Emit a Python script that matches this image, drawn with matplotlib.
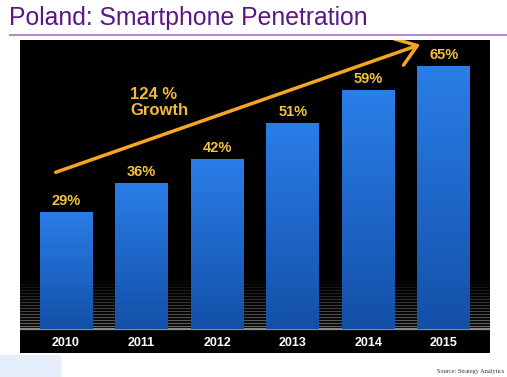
import numpy as np
import matplotlib.pyplot as plt
from matplotlib.patches import FancyArrowPatch

years = ['2010', '2011', '2012', '2013', '2014', '2015']
penetration = [29, 36, 42, 51, 59, 65]
labels = ['29%', '36%', '42%', '51%', '59%', '65%']

plt.rcParams['font.family'] = ['Liberation Sans', 'DejaVu Sans']

W, H = 507, 377
fig = plt.figure(figsize=(W / 100, H / 100), dpi=100)
fig.patch.set_facecolor('white')

# title + purple rule
fig.text(9 / W, 1 - 18 / H, 'Poland: Smartphone Penetration', color='#5a1589',
         fontsize=17.8, va='center', ha='left')
fig.add_artist(plt.Line2D([10 / W, 1], [1 - 35 / H, 1 - 35 / H], color='#b58ccb', lw=1.5))

# faint blue box bottom-left and source note
fig.add_artist(plt.Rectangle((0, 0), 60 / W, 22 / H, color='#e6eefb', zorder=0))
fig.text(1 - 3 / W, 3 / H, 'Source: Strategy Analytics', fontsize=4.5,
         family='Liberation Serif', ha='right', va='bottom', color='#333333')

ax = fig.add_axes([20 / W, 24 / H, 470 / W, 313 / H])
ax.set_facecolor('black')
x = np.arange(len(years))
ax.set_xlim(-0.608, 5.61)
ax.set_ylim(-5.9, 71.4)
for s in ax.spines.values():
    s.set_visible(False)
ax.set_xticks([])
ax.set_yticks([])

# grey stripes in the lower part of the panel
for yy in np.arange(0, 13, 0.75):
    a = 0.7 * (1 - yy / 13)
    ax.axhline(yy, color='#9a9a9a', lw=0.9, alpha=a, zorder=1)
ax.axhline(0, color='#8a8a8a', lw=1.5, zorder=1)

bars = ax.bar(x, penetration, width=0.7, color='#1f68d0', zorder=2)
grad = np.linspace(0, 1, 256).reshape(-1, 1)
cmap = plt.matplotlib.colors.LinearSegmentedColormap.from_list('bl', ['#1350a8', '#2a7ee8'])
for b in bars:
    im = ax.imshow(grad, cmap=cmap, aspect='auto', origin='lower',
                   extent=[b.get_x(), b.get_x() + b.get_width(), 0, b.get_height()], zorder=3)
    im.set_clip_path(b)

for xi, v, lab in zip(x, penetration, labels):
    ax.text(xi, v + 1.0, lab, color='#f3c23f', fontsize=10.5, fontweight='bold',
            ha='center', va='bottom', zorder=4)

for xi, yr in zip(x, years):
    ax.text(xi, -3.4, yr, color='white', fontsize=9, fontweight='bold',
            ha='center', va='center', zorder=4)

# growth arrow
arr = FancyArrowPatch((-0.17, 38.5), (4.72, 70.5), arrowstyle='->,head_length=0.7,head_width=0.5',
                      color='#f5a623', lw=2.5, mutation_scale=20, zorder=5)
ax.add_patch(arr)
ax.text(0.85, 56.0, '124 %\nGrowth', color='#f3b93a', fontsize=12, fontweight='bold',
        ha='left', va='center', linespacing=1.1, zorder=5)

fig.savefig('out.png', dpi=100)
